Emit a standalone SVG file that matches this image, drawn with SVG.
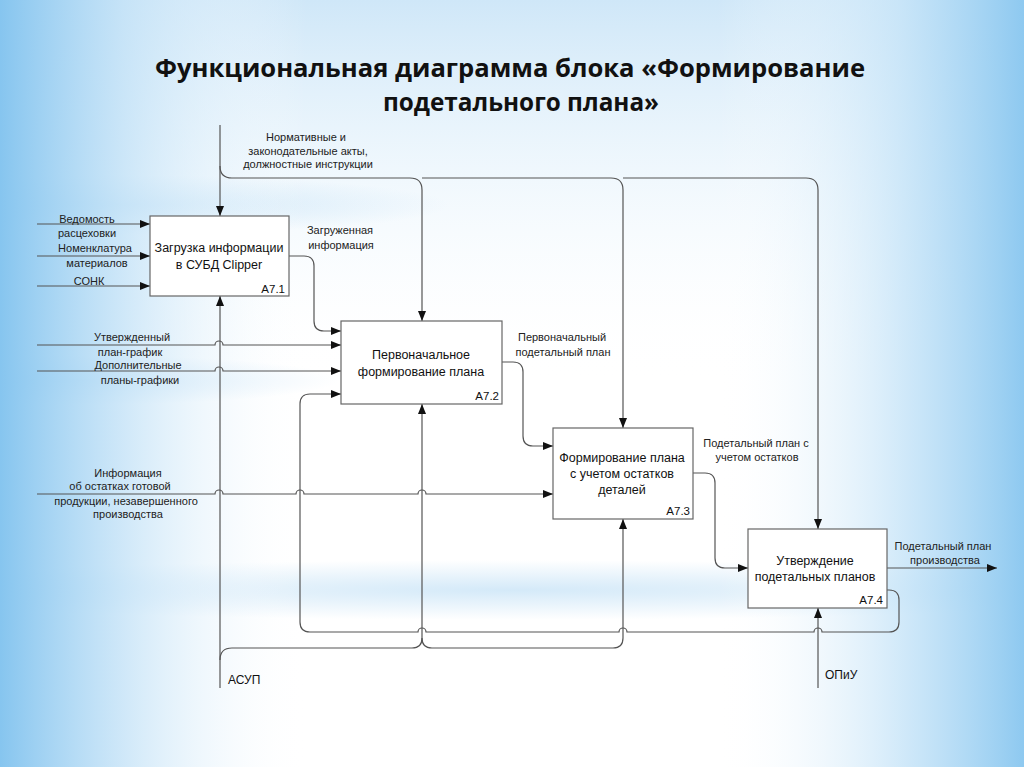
<svg xmlns="http://www.w3.org/2000/svg" width="1024" height="767" viewBox="0 0 1024 767">
<defs>
<linearGradient id="gl" x1="0" y1="0" x2="1" y2="0">
<stop offset="0" stop-color="#86c5ef"/>
<stop offset="0.12" stop-color="#c3e2f7" stop-opacity="0.8"/>
<stop offset="0.3" stop-color="#ffffff" stop-opacity="0"/>
<stop offset="0.7" stop-color="#ffffff" stop-opacity="0"/>
<stop offset="0.88" stop-color="#c6e4f8" stop-opacity="0.8"/>
<stop offset="1" stop-color="#8ec9f0"/>
</linearGradient>
<linearGradient id="gt" x1="0" y1="0" x2="0" y2="1">
<stop offset="0" stop-color="#cfe7f8"/>
<stop offset="0.3" stop-color="#eef7fd" stop-opacity="0.5"/>
<stop offset="0.5" stop-color="#ffffff" stop-opacity="0"/>
<stop offset="1" stop-color="#ffffff" stop-opacity="0"/>
</linearGradient>
<radialGradient id="rb">
<stop offset="0" stop-color="#a9d4f2" stop-opacity="0.5"/>
<stop offset="1" stop-color="#a9d4f2" stop-opacity="0"/>
</radialGradient>
<marker id="arr" viewBox="0 0 10 8" refX="10" refY="4" markerWidth="10" markerHeight="8" markerUnits="userSpaceOnUse" orient="auto">
<path d="M0,0 L10,4 L0,8 Z" fill="#111"/>
</marker>
<style>
.c{fill:none;stroke:#555;stroke-width:1.2}
.a{marker-end:url(#arr)}
.box{fill:#fff;stroke:#666;stroke-width:1.2}
.bt{font-family:"Liberation Sans",Arial,sans-serif;font-size:12.5px;fill:#111;text-anchor:middle}
.id{font-family:"Liberation Sans",Arial,sans-serif;font-size:11.5px;fill:#111;text-anchor:end}
.lb{font-family:"Liberation Sans",Arial,sans-serif;font-size:11px;fill:#222;text-anchor:middle}
.ms{font-family:"Liberation Sans",Arial,sans-serif;font-size:12px;fill:#111}
.tt{font-family:"Open Sans","Liberation Sans",sans-serif;font-size:25px;font-weight:bold;fill:#111;text-anchor:middle}
</style>
</defs>
<g id="background">
<rect width="1024" height="767" fill="#ffffff"/>
<rect width="1024" height="767" fill="url(#gt)"/>
<ellipse cx="120" cy="205" rx="330" ry="30" fill="url(#rb)"/>
<ellipse cx="80" cy="380" rx="260" ry="25" fill="url(#rb)"/>
<ellipse cx="512" cy="590" rx="700" ry="30" fill="url(#rb)"/>
<rect width="1024" height="767" fill="url(#gl)"/>
</g>
<g id="title">
<text class="tt" x="510" y="77" textLength="710" lengthAdjust="spacingAndGlyphs">Функциональная диаграмма блока «Формирование</text>
<text class="tt" x="521" y="111" textLength="276" lengthAdjust="spacingAndGlyphs">подетального плана»</text>
</g>
<g id="connectors">
<path class="c a" d="M220,125 V216"/>
<path class="c a" d="M220,166 Q220,178 232,178 H410 Q422,178 422,190 V321"/>
<path class="c a" d="M422,178 H611 Q623,178 623,190 V428"/>
<path class="c a" d="M623,178 H806 Q818,178 818,190 V529"/>
<path class="c a" d="M37,224 H150"/>
<path class="c a" d="M37,256 H150"/>
<path class="c a" d="M37,286 H150"/>
<path class="c a" d="M289,256 H304 Q314,256 314,266 V321 Q314,331 324,331 H341"/>
<path class="c a" d="M37,345 H215 A4,4 0 0 1 223,345 H341"/>
<path class="c a" d="M37,371 H215 A4,4 0 0 1 223,371 H341"/>
<path class="c a" d="M502,362 H513 Q523,362 523,372 V436 Q523,446 533,446 H553"/>
<path class="c a" d="M37,494 H215 A4,4 0 0 1 223,494 H296 A4,4 0 0 1 304,494 H418 A4,4 0 0 1 426,494 H553"/>
<path class="c a" d="M693,473 H705 Q715,473 715,483 V558 Q715,568 725,568 H748"/>
<path class="c a" d="M887,568 H997"/>
<path class="c a" d="M887,590 H889 Q899,590 899,600 V622 Q899,632 889,632 H822 A4,4 0 0 0 814,632 H627 A4,4 0 0 0 619,632 H426 A4,4 0 0 0 418,632 H310 Q300,632 300,622 V404 Q300,394 310,394 H341"/>
<path class="c a" d="M220,688 V296"/>
<path class="c a" d="M220,660 Q220,648 232,648 H412 Q422,648 422,638 V404"/>
<path class="c a" d="M422,638 Q422,648 432,648 H613 Q623,648 623,638 V519"/>
<path class="c a" d="M818,688 V608"/>
</g>
<g id="node-A7.1">
<rect class="box" x="150" y="216" width="139" height="80"/>
<text class="bt" x="219" y="252">Загрузка информации</text>
<text class="bt" x="219" y="269">в СУБД Clipper</text>
<text class="id" x="285" y="293">A7.1</text>
</g>
<g id="node-A7.2">
<rect class="box" x="341" y="321" width="161" height="83"/>
<text class="bt" x="421" y="359">Первоначальное</text>
<text class="bt" x="421" y="376">формирование плана</text>
<text class="id" x="499" y="400">A7.2</text>
</g>
<g id="node-A7.3">
<rect class="box" x="553" y="428" width="140" height="91"/>
<text class="bt" x="622" y="462">Формирование плана</text>
<text class="bt" x="622" y="478">с учетом остатков</text>
<text class="bt" x="622" y="494">деталей</text>
<text class="id" x="690" y="515">A7.3</text>
</g>
<g id="node-A7.4">
<rect class="box" x="748" y="529" width="139" height="79"/>
<text class="bt" x="815" y="565">Утверждение</text>
<text class="bt" x="815" y="581">подетальных планов</text>
<text class="id" x="883" y="604">A7.4</text>
</g>
<g id="labels">
<text class="lb" x="306" y="141">Нормативные и</text>
<text class="lb" x="308" y="155">законодательные акты,</text>
<text class="lb" x="308" y="168">должностные инструкции</text>
<text class="lb" x="87" y="223">Ведомость</text>
<text class="lb" x="87" y="237">расцеховки</text>
<text class="lb" x="95" y="252">Номенклатура</text>
<text class="lb" x="97" y="267">материалов</text>
<text class="lb" x="89" y="285">СОНК</text>
<text class="lb" x="340" y="234">Загруженная</text>
<text class="lb" x="341" y="249">информация</text>
<text class="lb" x="132" y="341">Утвержденный</text>
<text class="lb" x="130" y="356">план-график</text>
<text class="lb" x="138" y="369">Дополнительные</text>
<text class="lb" x="140" y="384">планы-графики</text>
<text class="lb" x="562" y="341">Первоначальный</text>
<text class="lb" x="563" y="356">подетальный план</text>
<text class="lb" x="128" y="477">Информация</text>
<text class="lb" x="120" y="490">об остатках готовой</text>
<text class="lb" x="126" y="505">продукции, незавершенного</text>
<text class="lb" x="128" y="518">производства</text>
<text class="lb" x="756" y="447">Подетальный план с</text>
<text class="lb" x="757" y="461">учетом остатков</text>
<text class="lb" x="943" y="550">Подетальный план</text>
<text class="lb" x="945" y="564">производства</text>
<text class="ms" x="228" y="684">АСУП</text>
<text class="ms" x="825" y="679">ОПиУ</text>
</g>
</svg>
